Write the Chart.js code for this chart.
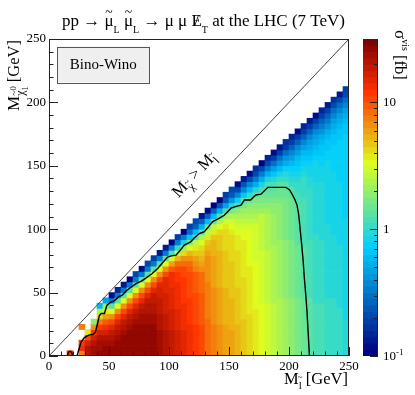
<!DOCTYPE html>
<html>
<head>
<meta charset="utf-8">
<script src="https://cdn.jsdelivr.net/npm/chart.js@4.4.1/dist/chart.umd.min.js"></script>
<style>
  html, body { margin: 0; padding: 0; background: #fff; }
  #wrap { position: relative; width: 415px; height: 395px; }
  #main { position: absolute; left: 0; top: 0; }
  #zbar { position: absolute; left: 355px; top: 0; }
</style>
</head>
<body>
<div id="wrap">
  <canvas id="main" width="415" height="395"></canvas>
  <canvas id="zbar" width="60" height="395"></canvas>
</div>
<script>
// slepton mass bins (lower edge, GeV) and neutralino bin width
const mSleptonLow = [0, 5, 10, 15, 20, 25, 30, 35, 40, 45, 50, 55, 60, 65, 70, 75, 80, 85, 90, 95,
  100, 105, 110, 115, 120, 125, 130, 135, 140, 145, 150, 155, 160, 165, 170, 175, 180, 185, 190, 195,
  200, 205, 210, 215, 220, 225, 230, 235, 240, 245];
const mSleptonWidth = 5;
const mChiWidth = 250 / 60;

// sigma_vis [fb], one list per slepton column, from the lowest neutralino bin upwards
const sigmaVis = [
  [],
  [],
  [],
  [12],
  [],
  [7.5, 13, 12, null, null, 7.5],
  [21, 21, 17, 11, 3.8],
  [24, 24, 21, 17, 12, 6.7, 1.9],
  [27, 24, 24, 21, 17, 12, 7.5, 4.2, 2.4, 0.6],
  [27, 27, 24, 21, 17, 13, 9.4, 6, 3.8, 2.1, 0.47],
  [27, 27, 24, 21, 19, 15, 11, 6.7, 3.3, 1.3, 0.34, 0.12],
  [27, 27, 27, 24, 21, 19, 15, 11, 6.7, 3.3, 1.3, 0.34, 0.15],
  [27, 27, 27, 27, 24, 21, 19, 15, 11, 6.7, 3.3, 1.3, 0.34, 0.13],
  [27, 27, 27, 27, 27, 24, 21, 19, 15, 11, 6.7, 3.3, 1.3, 0.34, 0.11],
  [27, 27, 27, 27, 27, 27, 24, 21, 19, 15, 11, 6.7, 3.3, 1.3, 0.34, 0.21],
  [27, 27, 27, 27, 27, 27, 24, 24, 21, 19, 15, 11, 6.7, 3.3, 1.3, 0.34, 0.12],
  [27, 27, 27, 27, 27, 27, 24, 24, 21, 21, 19, 15, 11, 6.7, 3.3, 1.3, 0.34, 0.21],
  [27, 27, 27, 27, 27, 27, 24, 24, 21, 21, 19, 19, 15, 11, 6.7, 3.3, 1.3, 0.34, 0.19],
  [24, 24, 24, 24, 24, 21, 21, 21, 19, 19, 19, 17, 17, 15, 11, 6.7, 3.3, 1.3, 0.34, 0.13],
  [21, 21, 21, 21, 21, 19, 19, 19, 17, 17, 17, 17, 15, 15, 15, 11, 6.7, 3.3, 1.3, 0.34, 0.13],
  [19, 19, 19, 19, 19, 17, 17, 17, 17, 15, 15, 15, 15, 13, 13, 13, 9.4, 6, 3, 1.2, 0.34, 0.11],
  [17, 17, 17, 17, 17, 15, 15, 15, 15, 13, 13, 13, 13, 13, 12, 12, 11, 8.4, 5.3, 2.7, 1.1, 0.34, 0.19],
  [15, 15, 15, 15, 15, 13, 13, 13, 13, 13, 12, 12, 12, 12, 12, 11, 11, 8.4, 6.7, 4.2, 2.1, 0.84, 0.34, 0.11],
  [13, 13, 13, 13, 13, 13, 12, 12, 12, 12, 12, 11, 11, 11, 11, 11, 9.4, 8.4, 6.7, 5.3, 3.3, 1.7, 0.67, 0.3, 0.19],
  [12, 12, 12, 12, 12, 12, 11, 11, 11, 11, 11, 11, 9.4, 9.4, 9.4, 9.4, 7.5, 6.7, 6, 4.7, 3.8, 2.7, 1.3, 0.6, 0.27, 0.21],
  [11, 11, 11, 11, 11, 11, 9.4, 9.4, 9.4, 9.4, 9.4, 9.4, 8.4, 8.4, 8.4, 8.4, 6.7, 6, 5.3, 4.7, 4.2, 3.3, 2.4, 1.2, 0.53, 0.27, 0.13],
  [8.4, 8.4, 8.4, 8.4, 8.4, 8.4, 8.4, 7.5, 7.5, 7.5, 7.5, 7.5, 7.5, 7.5, 6.7, 6.7, 6.7, 6.7, 6.7,
    6, 5.3, 4.7, 3.8, 2.7, 1.5, 0.6, 0.27, 0.12],
  [7.5, 7.5, 7.5, 7.5, 7.5, 7.5, 6.7, 6.7, 6.7, 6.7, 6.7, 6.7, 6.7, 6, 6, 6, 6, 6, 6,
    5.3, 5.3, 5.3, 4.7, 3.8, 2.7, 1.5, 0.6, 0.27, 0.11],
  [6.7, 6.7, 6.7, 6.7, 6.7, 6.7, 6, 6, 6, 6, 6, 6, 6, 5.3, 5.3, 5.3, 5.3, 5.3, 5.3, 5.3,
    4.7, 4.7, 4.7, 4.2, 3.3, 2.4, 1.3, 0.53, 0.24, 0.11],
  [6, 6, 6, 6, 6, 6, 5.3, 5.3, 5.3, 5.3, 5.3, 5.3, 5.3, 4.7, 4.7, 4.7, 4.7, 4.7, 4.7, 4.7,
    4.2, 4.2, 4.2, 4.2, 3.8, 3, 2.1, 1.2, 0.47, 0.24, 0.19],
  [6, 6, 6, 6, 6, 5.3, 5.3, 5.3, 5.3, 5.3, 5.3, 4.7, 4.7, 4.7, 4.7, 4.7, 4.7, 4.7,
    4.2, 4.2, 4.2, 4.2, 4.2, 3.8, 3.3, 3, 2.4, 1.7, 0.94, 0.42, 0.24, 0.21],
  [5.3, 5.3, 5.3, 5.3, 5.3, 5.3, 4.7, 4.7, 4.7, 4.7, 4.7, 4.7, 4.7, 4.2, 4.2, 4.2, 4.2, 4.2, 4.2, 4.2,
    3.8, 3.8, 3.8, 3.3, 3, 2.7, 2.4, 1.9, 1.3, 0.75, 0.38, 0.21, 0.12],
  [4.7, 4.7, 4.7, 4.7, 4.7, 4.7, 4.7, 4.2, 4.2, 4.2, 4.2, 4.2, 4.2, 4.2, 4.2, 3.8, 3.8, 3.8, 3.8, 3.8, 3.8, 3.8,
    3.3, 3.3, 3, 2.7, 2.4, 2.1, 1.7, 1.3, 0.67, 0.38, 0.24, 0.13],
  [4.2, 4.2, 4.2, 4.2, 4.2, 4.2, 4.2, 4.2, 3.8, 3.8, 3.8, 3.8, 3.8, 3.8, 3.8, 3.8, 3.8,
    3.3, 3.3, 3.3, 3.3, 3.3, 3.3, 3.3, 3, 2.7, 2.4, 2.1, 1.9, 1.5, 1.1, 0.6, 0.38, 0.21, 0.12],
  [3.8, 3.8, 3.8, 3.8, 3.8, 3.8, 3.8, 3.8, 3.8, 3.3, 3.3, 3.3, 3.3, 3.3, 3.3, 3.3, 3.3, 3.3,
    3, 3, 3, 3, 3, 3, 3, 2.7, 2.4, 2.1, 1.9, 1.7, 1.3, 0.94, 0.53, 0.34, 0.21, 0.17],
  [3.3, 3.3, 3.3, 3.3, 3.3, 3.3, 3.3, 3.3, 3.3, 3.3, 3, 3, 3, 3, 3, 3, 3, 3, 3, 3,
    2.7, 2.7, 2.7, 2.7, 2.7, 2.7, 2.7, 2.1, 1.9, 1.7, 1.5, 1.2, 0.84, 0.53, 0.34, 0.21, 0.11],
  [3, 3, 3, 3, 3, 3, 3, 3, 3, 3, 2.7, 2.7, 2.7, 2.7, 2.7, 2.7, 2.7, 2.7, 2.7, 2.7,
    2.4, 2.4, 2.4, 2.4, 2.4, 2.4, 2.4, 2.1, 1.9, 1.7, 1.5, 1.3, 1.2, 0.84, 0.53, 0.34, 0.21, 0.15],
  [2.7, 2.7, 2.7, 2.7, 2.7, 2.7, 2.7, 2.7, 2.7, 2.7, 2.4, 2.4, 2.4, 2.4, 2.4, 2.4, 2.4, 2.4, 2.4, 2.4, 2.4,
    2.1, 2.1, 2.1, 2.1, 2.1, 2.1, 1.9, 1.9, 1.7, 1.5, 1.3, 1.2, 0.94, 0.67, 0.47, 0.3, 0.19, 0.12],
  [2.4, 2.4, 2.4, 2.4, 2.4, 2.4, 2.4, 2.4, 2.4, 2.4, 2.4, 2.1, 2.1, 2.1, 2.1, 2.1, 2.1, 2.1, 2.1, 2.1, 2.1, 2.1,
    1.9, 1.9, 1.9, 1.9, 1.9, 1.9, 1.9, 1.7, 1.5, 1.5, 1.3, 1.1, 0.84, 0.6, 0.42, 0.3, 0.19, 0.13],
  [2.1, 2.1, 2.1, 2.1, 2.1, 2.1, 2.1, 2.1, 2.1, 2.1, 2.1, 1.9, 1.9, 1.9, 1.9, 1.9, 1.9, 1.9, 1.9, 1.9, 1.9, 1.9,
    1.7, 1.7, 1.7, 1.7, 1.7, 1.7, 1.7, 1.7, 1.5, 1.5, 1.3, 1.1, 0.94, 0.75, 0.53, 0.42, 0.3, 0.19, 0.17],
  [1.9, 1.9, 1.9, 1.9, 1.9, 1.9, 1.9, 1.9, 1.9, 1.9, 1.9, 1.7, 1.7, 1.7, 1.7, 1.7, 1.7, 1.7, 1.7, 1.7, 1.7, 1.7,
    1.5, 1.5, 1.5, 1.5, 1.5, 1.5, 1.5, 1.5, 1.3, 1.3, 1.1, 0.94, 0.84, 0.75, 0.6, 0.47, 0.38, 0.27, 0.19, 0.15],
  [1.7, 1.7, 1.7, 1.7, 1.7, 1.7, 1.7, 1.7, 1.7, 1.7, 1.7, 1.5, 1.5, 1.5, 1.5, 1.5, 1.5, 1.5, 1.5, 1.5, 1.5,
    1.3, 1.3, 1.3, 1.3, 1.3, 1.3, 1.3, 1.3, 1.2, 1.2, 1.1, 1.1, 0.94, 0.84, 0.75, 0.67, 0.6, 0.47, 0.38, 0.27, 0.19, 0.12],
  [1.5, 1.5, 1.5, 1.5, 1.5, 1.5, 1.5, 1.5, 1.5, 1.5, 1.5, 1.3, 1.3, 1.3, 1.3, 1.3, 1.3, 1.3, 1.3, 1.3, 1.3,
    1.2, 1.2, 1.2, 1.2, 1.2, 1.2, 1.2, 1.2, 1.2, 1.1, 1.1, 1.1, 1.1, 0.94, 0.84, 0.75, 0.67, 0.6, 0.47, 0.38, 0.27, 0.19, 0.15],
  [1.3, 1.3, 1.3, 1.3, 1.3, 1.3, 1.3, 1.3, 1.3, 1.3, 1.3, 1.2, 1.2, 1.2, 1.2, 1.2, 1.2, 1.2, 1.2, 1.2, 1.2, 1.2,
    1.1, 1.1, 1.1, 1.1, 1.1, 1.1, 1.1, 1.1, 1.1, 1.1, 0.94, 0.94, 0.84, 0.84, 0.75, 0.67, 0.6, 0.53, 0.47, 0.38, 0.27, 0.19, 0.13],
  [1.2, 1.2, 1.2, 1.2, 1.2, 1.2, 1.2, 1.2, 1.2, 1.2, 1.1, 1.1, 1.1, 1.1, 1.1, 1.1, 1.1, 1.1, 1.1, 1.1, 1.1, 1.1, 1.1,
    0.94, 0.94, 0.94, 0.94, 0.94, 0.94, 0.94, 0.94, 0.94, 0.94, 0.84, 0.84, 0.84, 0.84, 0.75, 0.67, 0.6, 0.53, 0.47, 0.38, 0.27, 0.19, 0.12],
  [1.2, 1.2, 1.2, 1.2, 1.2, 1.2, 1.2, 1.2, 1.2, 1.2, 1.1, 1.1, 1.1, 1.1, 1.1, 1.1, 1.1, 1.1, 1.1, 1.1, 1.1, 1.1,
    0.94, 0.94, 0.94, 0.94, 0.94, 0.94, 0.94, 0.94, 0.94, 0.94, 0.94, 0.84, 0.84, 0.84, 0.75, 0.75, 0.67, 0.67, 0.6, 0.53, 0.42, 0.34, 0.27, 0.19, 0.15],
  [1.1, 1.1, 1.1, 1.1, 1.1, 1.1, 1.1, 1.1, 1.1, 1.1, 1.1, 0.94, 0.94, 0.94, 0.94, 0.94, 0.94, 0.94, 0.94, 0.94, 0.94, 0.94, 0.94, 0.94, 0.94,
    0.84, 0.84, 0.84, 0.84, 0.84, 0.84, 0.84, 0.84, 0.84, 0.84, 0.84, 0.84, 0.75, 0.75, 0.67, 0.67, 0.6, 0.53, 0.42, 0.34, 0.27, 0.19, 0.13],
  [1.1, 1.1, 1.1, 1.1, 1.1, 1.1, 1.1, 1.1, 1.1, 1.1, 1.1, 0.94, 0.94, 0.94, 0.94, 0.94, 0.94, 0.94, 0.94, 0.94, 0.94, 0.94, 0.94,
    0.84, 0.84, 0.84, 0.84, 0.84, 0.84, 0.84, 0.84, 0.84, 0.84, 0.84, 0.84, 0.75, 0.75, 0.75, 0.75, 0.75, 0.67, 0.67, 0.6, 0.53, 0.47, 0.38, 0.3, 0.21, 0.17],
  [1.1, 1.1, 1.1, 1.1, 1.1, 1.1, 1.1, 1.1, 1.1, 0.94, 0.94, 0.94, 0.94, 0.94, 0.94, 0.94, 0.94, 0.94, 0.94, 0.94, 0.94,
    0.84, 0.84, 0.84, 0.84, 0.84, 0.84, 0.84, 0.84, 0.84, 0.84, 0.84, 0.84, 0.75, 0.75, 0.75, 0.75, 0.75, 0.75, 0.75, 0.75,
    0.67, 0.67, 0.6, 0.53, 0.47, 0.38, 0.3, 0.21, 0.13],
  [0.94, 0.94, 0.94, 0.94, 0.94, 0.94, 0.94, 0.84, 0.84, 0.84, 0.84, 0.84, 0.84, 0.84, 0.84, 0.84, 0.84, 0.84, 0.84, 0.84, 0.84, 0.84, 0.84, 0.84, 0.84, 0.84,
    0.75, 0.75, 0.75, 0.75, 0.75, 0.75, 0.75, 0.75, 0.75, 0.75, 0.75, 0.75, 0.75, 0.75, 0.75, 0.75,
    0.67, 0.67, 0.6, 0.53, 0.47, 0.38, 0.3, 0.21, 0.19]
];

// exclusion contour (GeV)
const contourX = [23.4, 24.5, 26.7, 29.5, 33, 36.5, 38.5, 40.6, 42, 43.5, 46.2, 48.3, 51.7, 54.5, 57.8, 61, 64.2, 68, 72.5, 77,
  82.2, 86, 90.6, 95, 98.9, 102, 105.9, 109, 112.8, 118, 121, 125.3, 129.5, 133, 136.4, 140.6, 146, 151.7, 156, 160,
  162.8, 168, 172.3, 176.7, 182.3, 190, 197.5, 200.5, 203, 205, 206.7, 208, 208.7, 209.7, 210.6, 211.8, 212.8, 214, 215, 216, 217];
const contourY = [0, 4, 11, 14.5, 16.5, 17, 18.5, 26, 32, 33.5, 33.5, 40, 42.6, 43.5, 46.6, 48, 51.3, 54, 57, 59,
  62.4, 65, 69, 74, 78, 79, 79.5, 83, 87.4, 90, 93, 96.6, 98, 102, 106, 108, 111, 116.6, 118, 119,
  123, 123, 127, 127.6, 133, 133, 133, 131, 127, 123, 119, 112, 106, 96, 87.6, 75, 61.3, 48, 35, 18, 0.8];
const islandX = [15.5, 16, 17.5, 19, 19.5];
const islandY = [0, 2.5, 3.8, 2.5, 0];

// colour axis
const zMin = 0.1, zMax = Math.pow(10, 1.5), nLevels = 50;
const zLabels = [1, 10];
const zMinorTicks = [0.2, 0.3, 0.4, 0.5, 0.6, 0.7, 0.8, 0.9, 2, 3, 4, 5, 6, 7, 8, 9, 20, 30];

const FONT = '"Liberation Serif", "Times New Roman", serif';

// ROOT "pretty" palette
const pStops = [0, 0.34, 0.61, 0.84, 1];
const pR = [0, 0, 0.87, 1, 0.51], pG = [0, 0.81, 1, 0.2, 0], pB = [0.51, 1, 0.12, 0, 0];
function gradient(t) {
  let i = 0;
  while (i < pStops.length - 2 && t > pStops[i + 1]) i++;
  const f = (t - pStops[i]) / (pStops[i + 1] - pStops[i]);
  const c = a => Math.round(255 * (a[i] + (a[i + 1] - a[i]) * f));
  return `rgb(${c(pR)},${c(pG)},${c(pB)})`;
}
function colorFor(v) {
  let k = Math.floor((Math.log10(v) - Math.log10(zMin)) / (Math.log10(zMax) - Math.log10(zMin)) * nLevels);
  k = Math.max(0, Math.min(nLevels - 1, k));
  return gradient(k / (nLevels - 1));
}

const cells = [];
sigmaVis.forEach((col, i) => {
  col.forEach((v, j) => {
    if (v == null) return;
    cells.push({ x: mSleptonLow[i] + mSleptonWidth / 2, y: [j * mChiWidth, (j + 1) * mChiWidth], v: v });
  });
});

// text helper: runs of text with sub/superscripts
function drawRuns(ctx, runs, x, y, align) {
  let w = 0;
  runs.forEach(r => {
    ctx.font = r.s + 'px ' + FONT;
    r.w = ctx.measureText(r.t).width;
    if (r.t2) r.w = Math.max(r.w, ctx.measureText(r.t2).width);
    w += r.w;
  });
  let cx = align === 'center' ? x - w / 2 : align === 'right' ? x - w : x;
  ctx.textBaseline = 'alphabetic';
  runs.forEach(r => {
    ctx.font = r.s + 'px ' + FONT;
    ctx.textAlign = 'left';
    ctx.fillText(r.t, cx, y + (r.dy || 0));
    if (r.t2) ctx.fillText(r.t2, cx, y + (r.dy2 || 0));
    if (r.tilde) {
      ctx.font = (r.s * 0.8) + 'px ' + FONT;
      ctx.textAlign = 'center';
      ctx.fillText('~', cx + r.w / 2, y + (r.dy || 0) - r.tilde);
    }
    if (r.slash) {
      ctx.textAlign = 'center';
      ctx.fillText('/', cx + r.w / 2, y + (r.dy || 0));
    }
    cx += r.w;
  });
}

const decorations = {
  id: 'decorations',
  afterDraw(chart) {
    const { ctx, chartArea: a, scales: { x, y } } = chart;
    ctx.save();
    ctx.strokeStyle = '#222';
    ctx.lineWidth = 1;
    ctx.strokeRect(a.left + 0.5, a.top + 0.5, a.right - a.left - 1, a.bottom - a.top - 1);
    ctx.beginPath();
    x.ticks.forEach(t => {
      const px = Math.round(x.getPixelForValue(t.value)) + 0.5;
      const len = t.value % 50 === 0 ? 9 : 4.5;
      ctx.moveTo(px, a.bottom); ctx.lineTo(px, a.bottom - len);
    });
    y.ticks.forEach(t => {
      const py = Math.round(y.getPixelForValue(t.value)) + 0.5;
      const len = t.value % 50 === 0 ? 9 : 4.5;
      ctx.moveTo(a.left, py); ctx.lineTo(a.left + len, py);
    });
    ctx.stroke();

    // model box
    const bx0 = x.getPixelForValue(7), bx1 = x.getPixelForValue(83.3);
    const by0 = y.getPixelForValue(244), by1 = y.getPixelForValue(215.8);
    ctx.fillStyle = '#efefef';
    ctx.fillRect(bx0, by0, bx1 - bx0, by1 - by0);
    ctx.strokeStyle = '#555';
    ctx.strokeRect(Math.round(bx0) + 0.5, Math.round(by0) + 0.5, Math.round(bx1 - bx0), Math.round(by1 - by0));
    ctx.fillStyle = '#000';
    drawRuns(ctx, [{ t: 'Bino-Wino', s: 15 }], (bx0 + bx1) / 2, (by0 + by1) / 2 + 5, 'center');

    // label along the kinematic limit
    const ang = Math.atan2(y.getPixelForValue(250) - y.getPixelForValue(0), x.getPixelForValue(250) - x.getPixelForValue(0));
    ctx.save();
    ctx.translate(x.getPixelForValue(108), y.getPixelForValue(124.5));
    ctx.rotate(ang);
    drawRuns(ctx, [
      { t: 'M', s: 16.5 }, { t: 'χ', s: 11.5, dy: 5, tilde: 7 },
      { t: ' > M', s: 16.5 }, { t: 'l', s: 11.5, dy: 5, tilde: 9 }
    ], 0, 0, 'left');
    ctx.restore();

    // title
    drawRuns(ctx, [
      { t: 'pp → ', s: 17 }, { t: 'μ', s: 17, tilde: 9.5 }, { t: 'L', s: 10, dy: 7 },
      { t: ' ', s: 17 }, { t: 'μ', s: 17, tilde: 9.5 }, { t: 'L', s: 10, dy: 7 },
      { t: ' → μ μ ', s: 17 }, { t: 'E', s: 17, slash: true }, { t: 'T', s: 10, dy: 7 },
      { t: ' at the LHC (7 TeV)', s: 17 }
    ], 203.5, 26, 'center');

    // x title
    drawRuns(ctx, [
      { t: 'M', s: 16.5 }, { t: 'l', s: 11, dy: 5, tilde: 9 }, { t: ' [GeV]', s: 16.5 }
    ], a.right - 1, 384, 'right');

    // y title
    ctx.save();
    ctx.translate(19, a.top + 1);
    ctx.rotate(-Math.PI / 2);
    drawRuns(ctx, [
      { t: 'M', s: 17 }, { t: 'χ', s: 12, dy: 5, tilde: 7.5 },
      { t: '0', s: 8.5, dy: -3, t2: '1', dy2: 9 }, { t: ' [GeV]', s: 16.5 }
    ], 0, 0, 'right');
    ctx.restore();
    ctx.restore();
  }
};

Chart.defaults.font.family = FONT;
Chart.defaults.color = '#000';

new Chart(document.getElementById('main'), {
  type: 'bar',
  data: {
    datasets: [
      {
        type: 'line',
        data: contourX.map((v, i) => ({ x: v, y: contourY[i] })),
        borderColor: '#000', borderWidth: 1.4, pointRadius: 0, tension: 0, order: 1
      },
      {
        type: 'line',
        data: islandX.map((v, i) => ({ x: v, y: islandY[i] })),
        borderColor: '#000', borderWidth: 1.4, pointRadius: 0, tension: 0.4, order: 1
      },
      {
        type: 'line',
        data: [{ x: 0, y: 0 }, { x: 250, y: 250 }],
        borderColor: '#444', borderWidth: 1, pointRadius: 0, order: 2
      },
      {
        type: 'bar',
        data: cells,
        backgroundColor: c => colorFor(c.raw.v),
        borderWidth: 0,
        barPercentage: 1,
        categoryPercentage: 1,
        grouped: false,
        order: 3
      }
    ]
  },
  options: {
    responsive: false,
    animation: false,
    devicePixelRatio: 1,
    layout: { padding: { top: 39, right: 66, bottom: 0, left: 0 } },
    plugins: { legend: { display: false }, tooltip: { enabled: false } },
    scales: {
      x: {
        type: 'linear', min: 0, max: 250, offset: false,
        grid: { display: false, drawTicks: false }, border: { display: false },
        ticks: {
          stepSize: 10, autoSkip: false, maxRotation: 0, padding: 3,
          font: { size: 13 }, color: '#000',
          callback: v => (v % 50 === 0 ? String(v) : '')
        },
        afterFit: s => { s.height = 39; }
      },
      y: {
        type: 'linear', min: 0, max: 250,
        grid: { display: false, drawTicks: false }, border: { display: false },
        ticks: {
          stepSize: 10, autoSkip: false, padding: 3,
          font: { size: 13 }, color: '#000',
          callback: v => (v % 50 === 0 ? String(v) : '')
        },
        afterFit: s => { s.width = 49; }
      }
    }
  },
  plugins: [decorations]
});

// colour bar
const bands = [];
for (let k = 0; k < nLevels; k++) {
  const lo = zMin * Math.pow(zMax / zMin, k / nLevels);
  const hi = zMin * Math.pow(zMax / zMin, (k + 1) / nLevels);
  bands.push({ x: 0.5, y: [lo, hi], v: Math.sqrt(lo * hi) });
}

const zbarDeco = {
  id: 'zbarDeco',
  afterDraw(chart) {
    const { ctx, chartArea: a, scales: { y } } = chart;
    ctx.save();
    ctx.strokeStyle = '#222';
    ctx.lineWidth = 1;
    ctx.beginPath();
    ctx.moveTo(a.right - 0.5, a.top); ctx.lineTo(a.right - 0.5, a.bottom);
    [zMin].concat(zLabels).forEach(v => {
      const py = Math.round(y.getPixelForValue(v)) + 0.5;
      ctx.moveTo(a.right, py); ctx.lineTo(a.right - 8, py);
    });
    zMinorTicks.forEach(v => {
      const py = Math.round(y.getPixelForValue(v)) + 0.5;
      ctx.moveTo(a.right, py); ctx.lineTo(a.right - 4, py);
    });
    ctx.stroke();

    ctx.fillStyle = '#000';
    const yb = y.getPixelForValue(zMin) + 4;
    drawRuns(ctx, [{ t: '10', s: 13 }, { t: '-1', s: 9, dy: -5 }], a.right + 5, yb, 'left');

    ctx.save();
    ctx.translate(40, 30);
    ctx.rotate(Math.PI / 2);
    drawRuns(ctx, [{ t: 'σ', s: 17 }, { t: 'vis', s: 10, dy: -7 }, { t: ' [fb]', s: 16.5 }], 0, 0, 'left');
    ctx.restore();
    ctx.restore();
  }
};

new Chart(document.getElementById('zbar'), {
  type: 'bar',
  data: {
    datasets: [{
      data: bands,
      backgroundColor: c => colorFor(c.raw.v),
      borderWidth: 0,
      barThickness: 15
    }]
  },
  options: {
    responsive: false,
    animation: false,
    devicePixelRatio: 1,
    layout: { padding: { top: 39, right: 0, bottom: 39, left: 8 } },
    plugins: { legend: { display: false }, tooltip: { enabled: false } },
    scales: {
      x: { type: 'linear', min: 0, max: 1, display: false, offset: false },
      y: {
        type: 'logarithmic', position: 'right', min: zMin, max: zMax,
        grid: { display: false, drawTicks: false }, border: { display: false },
        afterBuildTicks: s => { s.ticks = zLabels.map(v => ({ value: v })); },
        ticks: { padding: 5, font: { size: 13 }, color: '#000', callback: v => String(v) },
        afterFit: s => { s.width = 37; }
      }
    }
  },
  plugins: [zbarDeco]
});
</script>
</body>
</html>
